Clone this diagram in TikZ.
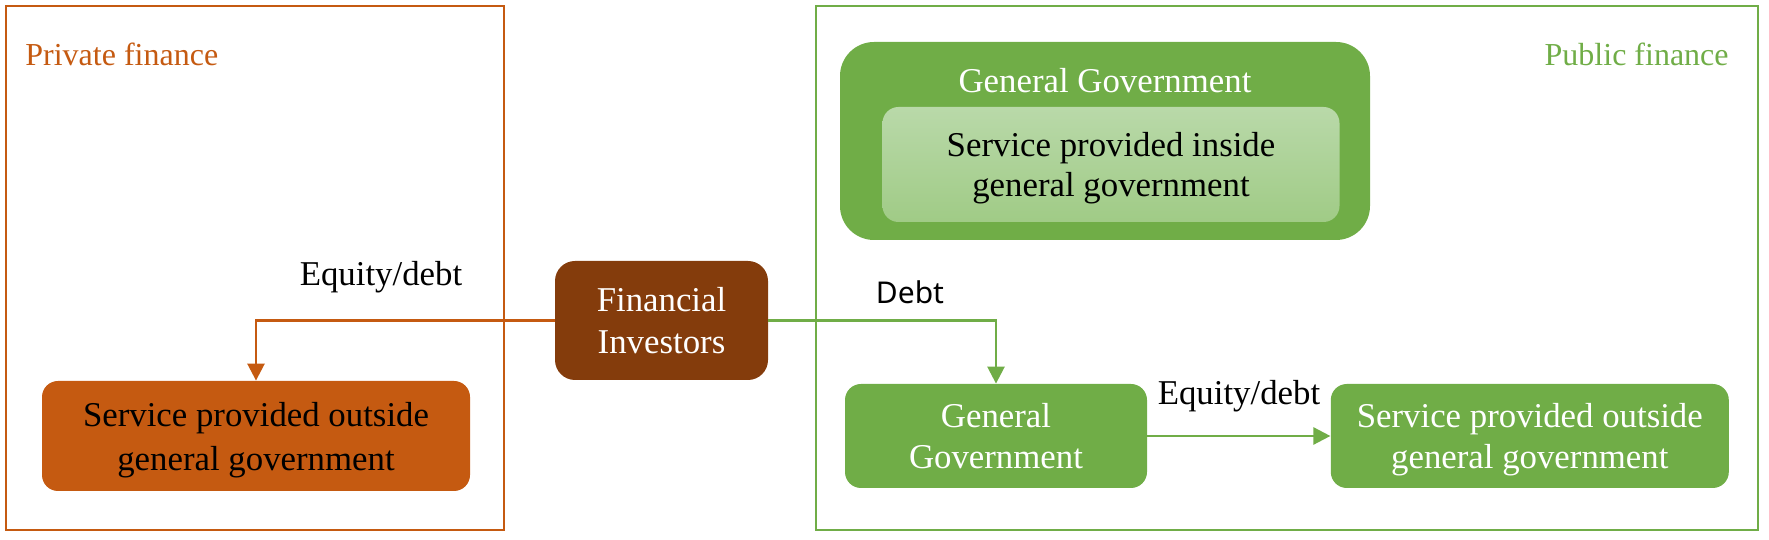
\documentclass[tikz,border=0pt]{standalone}
\usepackage{fontspec}
\setmainfont{Liberation Serif}
\newfontfamily\labelsans{Noto Sans}
\usetikzlibrary{arrows.meta,positioning}
\definecolor{privorange}{HTML}{C55A11}
\definecolor{investbrown}{HTML}{843C0C}
\definecolor{pubgreen}{HTML}{70AD47}
\definecolor{palegreentop}{HTML}{B9D9A9}
\definecolor{palegreenbot}{HTML}{A0CB86}

\begin{document}
\begin{tikzpicture}[
    x=0.5pt, y=0.5pt,
    frame/.style={draw, line width=1.2pt},
    box/.style={rectangle, rounded corners=8pt, align=center, inner sep=0pt, text depth=0pt,
                font=\fontsize{17.4}{20.8}\selectfont},
    arr/.style={-{Triangle[length=8.5pt, width=8.5pt]}, line width=1.3pt},
    lbl/.style={font=\fontsize{17.4}{20.8}\selectfont, inner sep=0pt},
]
    \useasboundingbox (0,0) rectangle (1769,540);

    % the two sides
    \draw[frame, privorange] (6,10) rectangle (504,534);
    \draw[frame, pubgreen] (816,10) rectangle (1758,534);
    \node[lbl, text=privorange, anchor=west, font=\fontsize{16}{19}\selectfont] (privtitle) at (25,486) {Private finance};
    \node[lbl, text=pubgreen, anchor=east, font=\fontsize{16}{19}\selectfont] (pubtitle) at (1729,486) {Public finance};

    % public: general government block
    \node[box, fill=pubgreen, rounded corners=17pt, minimum width=265pt, minimum height=99pt] (ggouter) at (1105,399) {};
    \node[lbl, text=white] (ggtitle) at (1105,459) {General Government};
    \node[box, top color=palegreentop, bottom color=palegreenbot, minimum width=228.5pt, minimum height=57.5pt,
          font=\fontsize{17.4}{20}\selectfont] (gginside) at (1111,375.5) {Service provided inside\\general government};

    % investors and the boxes they fund
    \node[box, fill=investbrown, text=white, rounded corners=10pt, minimum width=106.5pt, minimum height=59.5pt] (fininv) at (661.5,219.5) {Financial\\Investors};
    \node[box, fill=privorange, minimum width=214pt, minimum height=55pt,
          font=\fontsize{17.4}{22}\selectfont] (privsvc) at (256,104) {Service provided outside\\general government};
    \node[box, fill=pubgreen, text=white, minimum width=151pt, minimum height=52pt] (ggsmall) at (996,104) {General\\Government};
    \node[box, fill=pubgreen, text=white, minimum width=199pt, minimum height=52pt, right=91.5pt of ggsmall] (pubsvc) {Service provided outside\\general government};

    \draw[arr, privorange] (fininv.west) -| (privsvc.north);
    \draw[arr, pubgreen] (fininv.east) -| (ggsmall.north);
    \draw[arr, pubgreen] (ggsmall) -- (pubsvc);

    \node[lbl] (privlbl) at (381,262.5) {Equity/debt};
    \node[lbl, font=\labelsans\fontsize{15}{18}\selectfont] (debtlbl) at (910,248) {Debt};
    \node[lbl] (publbl) at (1239,144) {Equity/debt};
\end{tikzpicture}
\end{document}
